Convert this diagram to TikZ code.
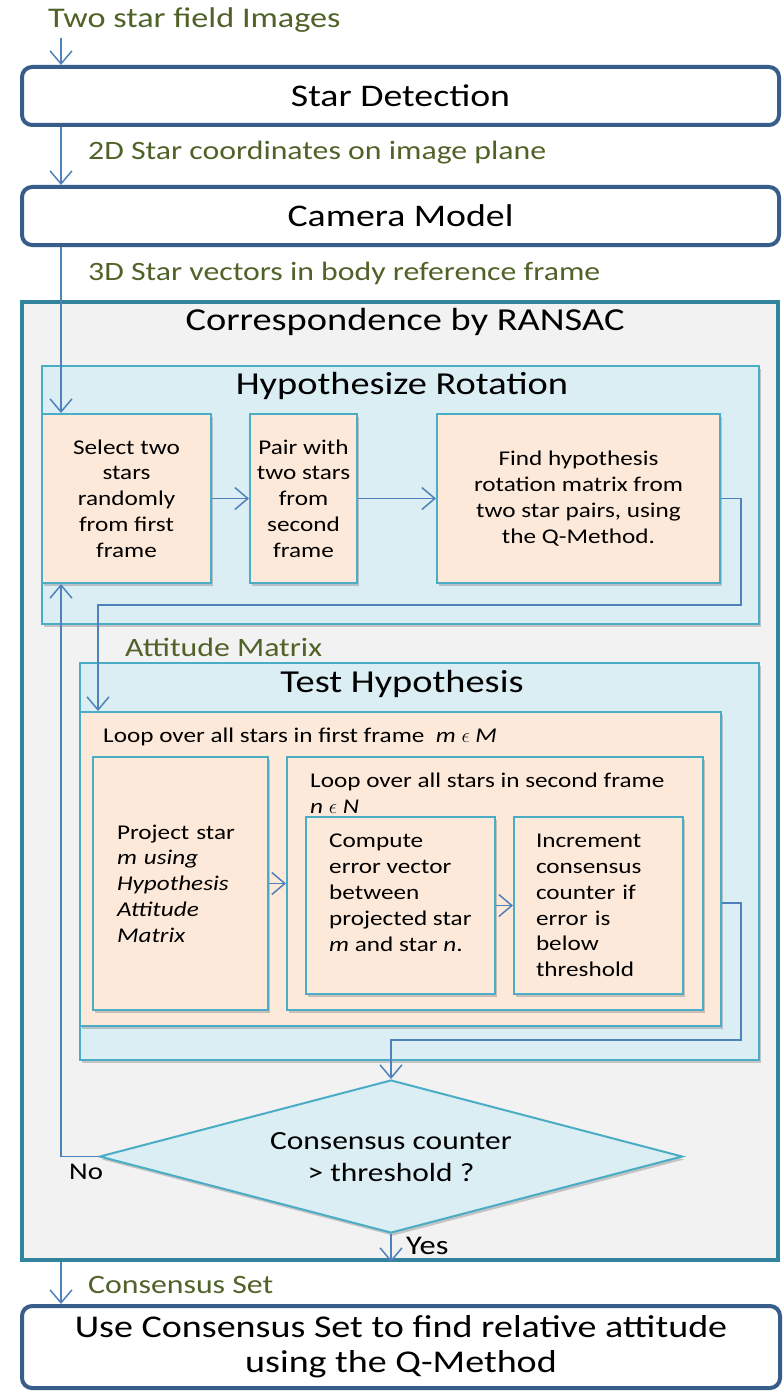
\documentclass[tikz,border=0pt]{standalone}
\usepackage{fontspec}
\setmainfont[FakeStretch=1.2]{Carlito}
\usetikzlibrary{arrows.meta,shapes.geometric,shadows,calc}
\definecolor{lblgreen}{RGB}{79,98,40}
\definecolor{arrblue}{RGB}{79,129,189}
\definecolor{topblue}{RGB}{56,93,138}
\definecolor{teal}{RGB}{49,132,155}
\definecolor{outerfill}{RGB}{242,242,242}
\definecolor{lightblue}{RGB}{219,238,244}
\definecolor{boxborder}{RGB}{75,172,198}
\definecolor{peach}{RGB}{253,233,217}
\begin{document}
\begin{tikzpicture}[x=1pt,y=-1pt,
  topbox/.style={draw=topblue, line width=4pt, rounded corners=10pt, fill=white, inner sep=0pt, font=\fontsize{31.5}{35}\selectfont},
  lbl/.style={text=lblgreen, anchor=west, inner sep=0pt, font=\fontsize{26.5}{30}\selectfont},
  arr/.style={draw=arrblue, line width=1.5pt, -{Straight Barb[length=13pt,width=22pt,line width=1.5pt]}},
  shad/.style={drop shadow={shadow xshift=2pt,shadow yshift=-3pt,fill=black!45,opacity=0.45}},
  bluebox/.style={draw=boxborder, line width=2pt, fill=lightblue, inner sep=0pt, shad},
  peachbox/.style={draw=boxborder, line width=2pt, fill=peach, inner sep=0pt, shad},
  title/.style={inner sep=0pt, font=\fontsize{32}{36}\selectfont},
  small/.style={inner sep=0pt, font=\fontsize{21}{25.8}\selectfont}
]
\useasboundingbox (0,0) rectangle (782,1391);

% top part
\node[lbl, font=\fontsize{28.5}{32}\selectfont] (start) at (48,20) {Two star field Images};
\coordinate (in1) at (61,38);
\node[topbox, minimum width=757pt, minimum height=58pt] (sd) at (400.5,96) {Star Detection};
\node[topbox, minimum width=757pt, minimum height=58pt] (cam) at (400.5,216) {Camera Model};
\node[lbl] (l2d) at (88,153) {2D Star coordinates on image plane};
\node[lbl] (l3d) at (88,273) {3D Star vectors in body reference frame};

% RANSAC
\node[draw=teal, line width=4pt, fill=outerfill, minimum width=756pt, minimum height=958pt, inner sep=0pt] (ransac) at (400,781) {};
\node[title] (ransactitle) at (405,322) {Correspondence by RANSAC};

% Hypothesize rotation
\node[bluebox, minimum width=717pt, minimum height=258pt] (hyp) at (400.5,495) {};
\node[title] (hyptitle) at (402,386) {Hypothesize Rotation};
\node[peachbox, small, minimum width=169pt, minimum height=169pt, align=center] (sel) at (126.5,498.5)
  {Select two\\stars\\randomly\\from first\\frame};
\node[peachbox, small, minimum width=107pt, minimum height=169pt, align=center] (pair) at (303.5,498.5)
  {Pair with\\two stars\\from\\second\\frame};
\node[peachbox, small, minimum width=283pt, minimum height=169pt, align=center] (find) at (578.5,498.5)
  {Find hypothesis\\rotation matrix from\\two star pairs, using\\the Q-Method.};

\node[lbl] (latt) at (125,647) {Attitude Matrix};

% Test hypothesis
\node[bluebox, minimum width=679pt, minimum height=397pt] (test) at (419.5,861.5) {};
\node[title] (testtitle) at (402,684) {Test Hypothesis};
\node[peachbox, minimum width=641pt, minimum height=314pt] (loop1) at (400.5,869) {};
\node[small, anchor=west] (loop1t) at (103,737) {Loop over all stars in first frame\ \ \textit{m} $\epsilon$ \textit{M}};
\node[peachbox, small, minimum width=175pt, minimum height=253pt, text width=127pt, align=left] (proj) at (180.5,883.5)
  {Project star\\\textit{m using}\\\textit{Hypothesis}\\\textit{Attitude}\\\textit{Matrix}};
\node[peachbox, minimum width=416pt, minimum height=253pt] (loop2) at (495,883.5) {};
\node[small, anchor=west, align=left] (loop2t) at (310,793.5) {Loop over all stars in second frame\\\textit{n} $\epsilon$ \textit{N}};
\node[peachbox, minimum width=189pt, minimum height=177pt] (comp) at (400.5,905.5) {};
\node[small, anchor=north west, align=left] (compt) at (329,834) {Compute\\error vector\\between\\projected star\\\textit{m} and star \textit{n}.};
\node[peachbox, small, minimum width=169pt, minimum height=177pt, text width=125pt, align=left] (inc) at (598.5,905.5)
  {Increment\\consensus\\counter if\\error is\\below\\threshold};

% diamond
\node[diamond, draw=boxborder, line width=2pt, fill=lightblue, inner sep=0pt, minimum width=583pt, minimum height=153pt, shad] (dia) at (391,1156.5) {};
\node[inner sep=0pt, align=center, font=\fontsize{26.2}{32}\selectfont] (diat) at (391,1157) {Consensus counter\\> threshold ?};
\node[inner sep=0pt, anchor=west, font=\fontsize{24}{28}\selectfont] (no) at (69,1172) {No};
\node[inner sep=0pt, anchor=west, font=\fontsize{27}{30}\selectfont] (yes) at (406,1246) {Yes};

% final
\node[lbl] (lcs) at (88,1285) {Consensus Set};
\node[topbox, minimum width=758pt, minimum height=82pt, align=center, font=\fontsize{31.7}{35}\selectfont] (final) at (401,1347)
  {Use Consensus Set to find relative attitude\\using the Q-Method};

% connectors
\coordinate (r1) at (741,605);
\coordinate (a1) at (98,605);
\coordinate (r2) at (741,1040);
\draw[arr] (in1) -- (in1 |- sd.north);
\draw[arr] (sd.south -| in1) -- (in1 |- cam.north);
\draw[arr] (cam.south -| in1) -- (in1 |- sel.north);
\draw[arr] (sel.east) -- (pair.west);
\draw[arr] (pair.east) -- (find.west);
\draw[arr] (find.east) -| (r1) -- (a1) -- (a1 |- loop1.north);
\draw[arr] (proj.east) -- (loop2.west);
\draw[arr] (comp.east) -- (inc.west);
\draw[arr] ($(loop1.east)+(0,34)$) -| (r2) -- (r2 -| dia.north) -- (dia.north);
\draw[arr] (dia.west) -- (dia.west -| in1) -- (in1 |- sel.south);
\draw[arr] (dia.south) -- (dia.south |- ransac.south);
\draw[arr] (ransac.south -| in1) -- (in1 |- final.north);
\end{tikzpicture}
\end{document}
